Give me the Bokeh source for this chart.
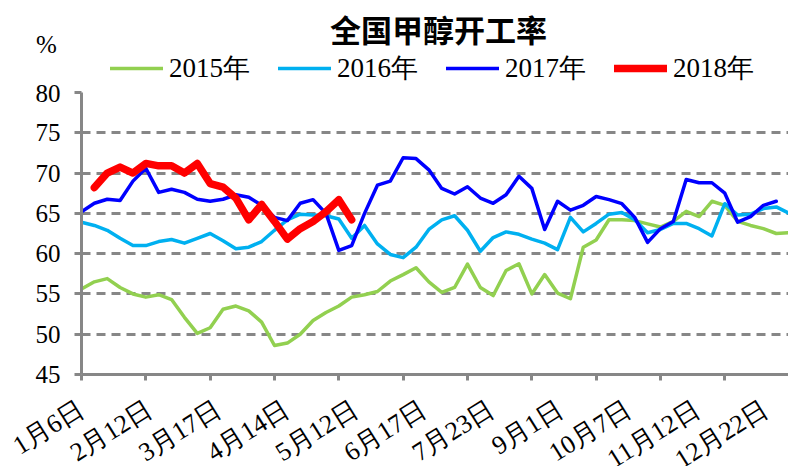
from bokeh.plotting import figure
from bokeh.layouts import column
from bokeh.models import (Range1d, FixedTicker, Legend, LegendItem, Label,
                          LabelSet, ColumnDataSource)
from bokeh.core.properties import value
from bokeh.embed import file_html
from bokeh.resources import INLINE

nan = float("nan")

# ---- data (weekly operating rate, %) ----
s2015 = [55.6, 56.5, 56.9, 55.8, 55.0, 54.6, 54.9, 54.3, 52.1, 50.1,
         50.8, 53.1, 53.5, 52.9, 51.5, 48.6, 48.9, 50.0, 51.7, 52.7,
         53.5, 54.6, 54.9, 55.3, 56.6, 57.4, 58.25, 56.5, 55.2, 55.8,
         58.7, 55.8, 54.8, 57.9, 58.75, 55.0, 57.4, 55.1, 54.4, 60.8,
         61.7, 64.2, 64.2, 64.1, 63.7, 63.3, 64.0, 65.25, 64.6, 66.5,
         66.0, 64.0, 63.5, 63.1, 62.5, 62.6]
s2016 = [63.9, 63.5, 62.9, 61.9, 61.0, 61.0, 61.5, 61.75, 61.3, 61.9,
         62.5, 61.6, 60.6, 60.8, 61.5, 62.9, 64.2, 64.9, 64.8, 64.7,
         64.3, 61.9, 63.5, 61.2, 59.9, 59.5, 60.8, 63.0, 64.2, 64.7,
         62.9, 60.3, 62.0, 62.7, 62.4, 61.8, 61.3, 60.5, 64.5, 62.7,
         63.75, 64.9, 65.1, 64.2, 62.6, 63.0, 63.75, 63.75, 63.1, 62.2,
         66.2, 64.8, 64.9, 65.6, 65.8, 65.0]
s2017 = [65.2, 66.25, 66.75, 66.6, 69.0, 70.6, 67.6, 68.0, 67.6, 66.75,
         66.5, 66.75, 67.3, 67.0, 66.0, 64.5, 64.1, 66.25, 66.7, 65.0,
         60.4, 61.0, 65.0, 68.5, 69.0, 71.9, 71.8, 70.4, 68.1, 67.4,
         68.3, 66.9, 66.25, 67.3, 69.6, 68.1, 63.0, 66.5, 65.4, 66.0,
         67.1, 66.7, 66.2, 64.5, 61.4, 63.1, 64.0, 69.2, 68.8, 68.8,
         67.5, 63.9, 64.6, 66.0, 66.5]
s2018 = [nan, 68.2, 70.0, 70.75, 70.0, 71.2, 70.9, 70.9, 70.0, 71.2,
         68.7, 68.25, 66.9, 64.2, 66.1, 64.0, 61.8, 63.1, 64.0, 65.2,
         66.7, 64.2]

series_names = ["2015年", "2016年", "2017年", "2018年"]
tick_positions = [0, 5, 10, 15, 20, 25, 30, 35, 40, 45, 50]
tick_labels = ["1月6日", "2月12日", "3月17日", "4月14日", "5月12日", "6月17日",
               "7月23日", "9月1日", "10月7日", "11月12日", "12月22日"]
y_ticks = [45, 50, 55, 60, 65, 70, 75, 80]

# ---- style / layout constants ----
GRAY = "#878787"
SERIF = "Liberation Serif"
colors = ["#92D050", "#00B0F0", "#0000FF", "#FF0000"]
widths = [3.5, 3.5, 3.5, 7.5]
W = 788
LEFT = 81          # frame left edge (px)
PX = 12.866        # px per category step
HDR_H, MAIN_H, FTR_H = 84, 306, 76
TOP_B, BOT_B = 8, 16


def bare(fig):
    fig.grid.visible = False
    fig.outline_line_color = None
    fig.background_fill_color = "white"
    fig.border_fill_color = "white"


# ---------------- header: title, unit, legend ----------------
hdr = figure(width=W, height=HDR_H, output_backend="svg", toolbar_location=None,
             x_range=Range1d(0, W), y_range=Range1d(HDR_H, 0), min_border=0,
             x_axis_location=None, y_axis_location=None, frame_align=False)
bare(hdr)
hdr.add_layout(Label(x=438, y=28, text="全国甲醇开工率",
                     text_font="Noto Sans CJK SC", text_font_size="31px",
                     text_font_style="bold", text_align="center",
                     text_baseline="middle", text_color="black"))
hdr.add_layout(Label(x=46, y=44, text="%", text_font=SERIF,
                     text_font_size="25px", text_align="center",
                     text_baseline="middle", text_color="black"))
keys = [hdr.line(x=[nan], y=[nan], line_color=c, line_width=w,
                 line_cap="round") for c, w in zip(colors, widths)]
legend = Legend(items=[LegendItem(label=n, renderers=[r])
                       for n, r in zip(series_names, keys)],
                orientation="horizontal", location=(110, -2),
                glyph_width=53, glyph_height=20, label_standoff=6,
                spacing=28, padding=0, margin=0,
                background_fill_alpha=0, border_line_alpha=0,
                label_text_font=SERIF, label_text_font_size="27px",
                label_text_color="black")
hdr.add_layout(legend)

# ---------------- main plot ----------------
p = figure(width=W, height=MAIN_H, output_backend="svg", toolbar_location=None,
           x_range=Range1d(0, (W - LEFT) / PX), y_range=Range1d(45, 80),
           min_border_left=LEFT, min_border_right=0, min_border_top=TOP_B,
           min_border_bottom=BOT_B, frame_align=False)
p.outline_line_color = None
p.background_fill_color = "white"
p.border_fill_color = "white"

for s, c, w in zip([s2015, s2016, s2017, s2018], colors, widths):
    p.line(list(range(len(s))), s, line_color=c, line_width=w,
           line_join="round", line_cap="round")

p.xgrid.visible = False
p.ygrid.ticker = FixedTicker(ticks=y_ticks)
p.ygrid.grid_line_color = GRAY
p.ygrid.grid_line_width = 3
p.ygrid.grid_line_dash = "9 6"

p.yaxis.ticker = FixedTicker(ticks=y_ticks)
p.yaxis.axis_line_color = GRAY
p.yaxis.axis_line_width = 3
p.yaxis.major_tick_line_color = GRAY
p.yaxis.major_tick_line_width = 3
p.yaxis.major_tick_out = 7
p.yaxis.major_tick_in = 0
p.yaxis.minor_tick_line_color = None
p.yaxis.major_label_standoff = 14
p.yaxis.major_label_text_font = SERIF
p.yaxis.major_label_text_font_size = "25px"
p.yaxis.major_label_text_color = "black"

p.xaxis.ticker = FixedTicker(ticks=tick_positions)
p.xaxis.major_label_overrides = {t: "" for t in tick_positions}
p.xaxis.major_label_text_font_size = "0px"
p.xaxis.major_label_standoff = 0
p.xaxis.axis_line_color = GRAY
p.xaxis.axis_line_width = 3
p.xaxis.major_tick_line_color = GRAY
p.xaxis.major_tick_line_width = 3
p.xaxis.major_tick_out = 6
p.xaxis.major_tick_in = 0
p.xaxis.minor_tick_line_color = None

# ---------------- footer: rotated category labels ----------------
ftr = figure(width=W, height=FTR_H, output_backend="svg", toolbar_location=None,
             x_range=Range1d(-LEFT / PX, (W - LEFT) / PX),
             y_range=Range1d(FTR_H, 0), min_border=0,
             x_axis_location=None, y_axis_location=None, frame_align=False)
bare(ftr)
lab_src = ColumnDataSource(dict(
    x=tick_positions, text=tick_labels,
    off=[4.07 * k for k in range(len(tick_labels))]))
ftr.add_layout(LabelSet(source=lab_src, x="x", y=16, text="text",
                        x_offset="off", angle=0.56,
                        text_align="right", text_baseline="middle",
                        text_font=value(SERIF), text_font_size="26px",
                        text_color="black"))

layout = column(hdr, p, ftr, spacing=0)
open("out.html", "w").write(file_html(layout, INLINE))
